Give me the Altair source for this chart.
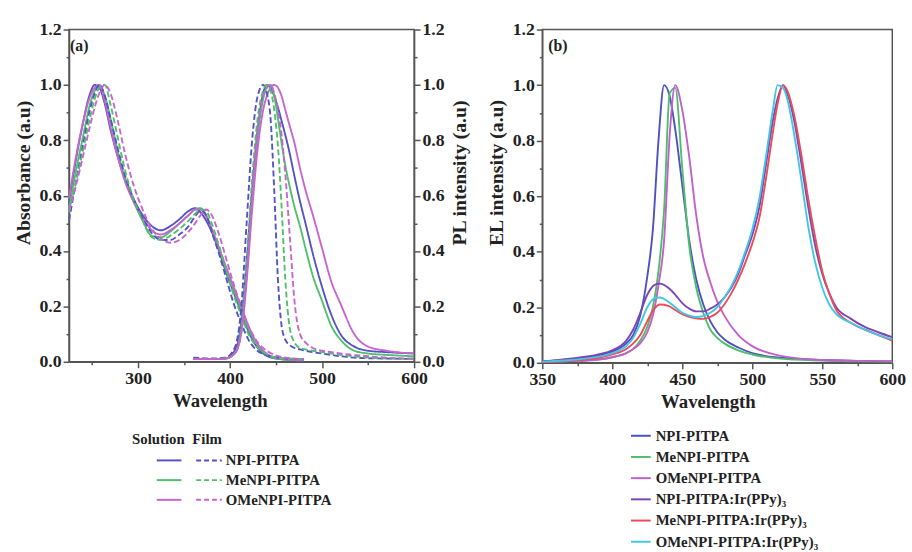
import altair as alt
import pandas as pd

FONT = "Liberation Serif"
INK = "#222222"
FRAME = "#555555"

# ---------------- Panel (a) ----------------
COMPOUNDS = ["NPI-PITPA", "MeNPI-PITPA", "OMeNPI-PITPA"]
COLORS_A = ["#5452c4", "#4fbf6a", "#c764cf"]
FORMS = ["Solution", "Film"]

ABS_WL = [225, 232, 240, 247, 253, 258, 264, 270, 278, 286, 295, 305, 315, 325, 335, 345,
          355, 362, 368, 374, 380, 388, 396, 404, 412, 420, 428, 436, 445, 460, 480]
ABS_NPI_SOL = [0.57, 0.72, 0.86, 0.96, 1.00, 0.99, 0.93, 0.84, 0.74, 0.66, 0.59, 0.53, 0.49, 0.475, 0.49, 0.515,
               0.545, 0.555, 0.54, 0.51, 0.47, 0.40, 0.32, 0.25, 0.18, 0.11, 0.06, 0.03, 0.015, 0.008, 0.005]
ABS_ME_SOL = [0.55, 0.68, 0.81, 0.92, 0.98, 1.00, 0.96, 0.88, 0.76, 0.66, 0.58, 0.51, 0.455, 0.45, 0.47, 0.50,
              0.53, 0.55, 0.555, 0.53, 0.48, 0.41, 0.33, 0.26, 0.19, 0.12, 0.07, 0.035, 0.018, 0.008, 0.005]
ABS_OME_SOL = [0.59, 0.73, 0.86, 0.95, 0.99, 1.00, 0.94, 0.85, 0.74, 0.65, 0.58, 0.52, 0.475, 0.46, 0.475, 0.50,
               0.53, 0.55, 0.55, 0.525, 0.48, 0.41, 0.34, 0.27, 0.20, 0.13, 0.075, 0.04, 0.02, 0.01, 0.006]
ABS_NPI_FILM = [0.51, 0.64, 0.78, 0.90, 0.97, 1.00, 0.96, 0.88, 0.77, 0.67, 0.59, 0.52, 0.465, 0.44, 0.44, 0.46,
                0.49, 0.525, 0.545, 0.53, 0.47, 0.39, 0.30, 0.21, 0.14, 0.08, 0.045, 0.028, 0.02, 0.012, 0.01]
ABS_ME_FILM = [0.54, 0.64, 0.76, 0.87, 0.95, 0.99, 1.00, 0.93, 0.81, 0.69, 0.59, 0.51, 0.45, 0.44, 0.455, 0.48,
               0.51, 0.535, 0.55, 0.545, 0.50, 0.42, 0.33, 0.24, 0.17, 0.10, 0.06, 0.035, 0.02, 0.012, 0.01]
ABS_OME_FILM = [0.55, 0.63, 0.74, 0.84, 0.92, 0.97, 1.00, 0.97, 0.87, 0.75, 0.64, 0.55, 0.48, 0.445, 0.43, 0.44,
                0.47, 0.50, 0.53, 0.55, 0.53, 0.46, 0.37, 0.28, 0.20, 0.13, 0.08, 0.05, 0.03, 0.015, 0.01]

PL_WL = [360, 380, 395, 405, 412, 418, 424, 430, 436, 440, 444, 448, 452, 456, 460, 465, 470,
         476, 482, 490, 500, 510, 520, 535, 550, 570, 600]
PL_NPI_SOL = [0.01, 0.01, 0.012, 0.04, 0.14, 0.36, 0.62, 0.84, 0.97, 1.00, 0.99, 0.96, 0.92, 0.87, 0.82, 0.75, 0.67,
              0.58, 0.50, 0.39, 0.27, 0.17, 0.10, 0.055, 0.04, 0.035, 0.03]
PL_ME_SOL = [0.01, 0.01, 0.012, 0.03, 0.11, 0.31, 0.58, 0.81, 0.95, 0.99, 1.00, 0.96, 0.88, 0.79, 0.71, 0.63, 0.56,
             0.49, 0.41, 0.31, 0.22, 0.13, 0.08, 0.04, 0.03, 0.025, 0.02]
PL_OME_SOL = [0.01, 0.01, 0.012, 0.03, 0.10, 0.29, 0.55, 0.77, 0.91, 0.96, 0.99, 1.00, 0.99, 0.96, 0.91, 0.85, 0.79,
              0.70, 0.62, 0.53, 0.41, 0.29, 0.21, 0.10, 0.055, 0.04, 0.03]
PL_NPI_FILM = [0.015, 0.012, 0.015, 0.05, 0.19, 0.50, 0.80, 0.96, 1.00, 0.97, 0.88, 0.62, 0.30, 0.13, 0.08, 0.06, 0.05,
               0.045, 0.04, 0.035, 0.03, 0.025, 0.02, 0.015, 0.013, 0.012, 0.01]
PL_ME_FILM = [0.01, 0.01, 0.012, 0.03, 0.12, 0.36, 0.66, 0.88, 0.98, 1.00, 0.98, 0.91, 0.78, 0.56, 0.30, 0.12, 0.07,
              0.05, 0.045, 0.04, 0.035, 0.03, 0.025, 0.02, 0.015, 0.012, 0.01]
PL_OME_FILM = [0.01, 0.01, 0.012, 0.03, 0.10, 0.31, 0.60, 0.84, 0.96, 0.99, 1.00, 0.97, 0.91, 0.82, 0.68, 0.45, 0.22,
               0.10, 0.07, 0.05, 0.04, 0.035, 0.03, 0.025, 0.02, 0.015, 0.012]

# ---------------- Panel (b) ----------------
EL_NAMES = ["NPI-PITPA", "MeNPI-PITPA", "OMeNPI-PITPA",
            "NPI-PITPA:Ir(PPy)\u2083", "MeNPI-PITPA:Ir(PPy)\u2083", "OMeNPI-PITPA:Ir(PPy)\u2083"]
EL_COLORS = ["#4e4fc2", "#4cbf6b", "#c35fcb", "#7a45b5", "#ec4b57", "#42c6e6"]

EL_WL = [350, 370, 390, 400, 410, 415, 420, 425, 429, 433, 437, 441, 445, 450, 455, 460, 465, 470,
         475, 480, 490, 500, 520, 550, 575, 600]
EL_NPI = [0.005, 0.012, 0.025, 0.04, 0.07, 0.10, 0.17, 0.31, 0.48, 0.80, 1.00, 0.96, 0.84, 0.64, 0.44, 0.30, 0.21, 0.15,
          0.11, 0.085, 0.055, 0.035, 0.018, 0.01, 0.007, 0.005]
EL_ME = [0.003, 0.006, 0.012, 0.02, 0.035, 0.05, 0.08, 0.13, 0.20, 0.33, 0.55, 0.97, 0.99, 0.70, 0.42, 0.27, 0.18, 0.12,
         0.09, 0.07, 0.045, 0.03, 0.015, 0.008, 0.005, 0.004]
EL_OME = [0.003, 0.006, 0.012, 0.02, 0.035, 0.05, 0.07, 0.11, 0.17, 0.28, 0.44, 0.82, 1.00, 0.91, 0.74, 0.53, 0.38, 0.29,
          0.22, 0.17, 0.10, 0.06, 0.025, 0.01, 0.007, 0.005]

IR_WL = [350, 370, 390, 400, 410, 415, 420, 425, 430, 434, 440, 445, 450, 455, 460, 465, 470, 475, 480, 485,
         490, 495, 500, 505, 510, 515, 518, 522, 525, 530, 535, 540, 545, 550, 555, 560, 570, 580, 590, 600]
IR_NPI = [0.005, 0.015, 0.03, 0.045, 0.08, 0.12, 0.18, 0.245, 0.28, 0.285, 0.27, 0.245, 0.215, 0.195, 0.185, 0.185,
          0.195, 0.21, 0.235, 0.27, 0.32, 0.39, 0.46, 0.56, 0.72, 0.88, 0.95, 1.00, 0.97, 0.87, 0.72, 0.56, 0.42,
          0.32, 0.25, 0.20, 0.16, 0.13, 0.11, 0.092]
IR_ME = [0.003, 0.008, 0.018, 0.03, 0.05, 0.07, 0.10, 0.15, 0.195, 0.21, 0.205, 0.19, 0.175, 0.165, 0.16, 0.158,
         0.165, 0.18, 0.21, 0.25, 0.30, 0.36, 0.43, 0.52, 0.67, 0.84, 0.93, 1.00, 0.98, 0.89, 0.75, 0.59, 0.45,
         0.33, 0.25, 0.19, 0.145, 0.12, 0.10, 0.08]
IR_OME = [0.004, 0.01, 0.022, 0.035, 0.06, 0.09, 0.14, 0.20, 0.232, 0.235, 0.22, 0.20, 0.18, 0.17, 0.165, 0.168,
          0.18, 0.20, 0.235, 0.275, 0.33, 0.40, 0.48, 0.59, 0.75, 0.92, 1.00, 0.99, 0.95, 0.82, 0.66, 0.49, 0.36,
          0.27, 0.21, 0.175, 0.145, 0.12, 0.10, 0.085]


def frame(wl, series, names, **extra):
    rows = []
    for name, vals in zip(names, series):
        for w, v in zip(wl, vals):
            rows.append({"wl": w, "val": v, "name": name, **extra})
    return pd.DataFrame(rows)


abs_df = pd.concat([
    frame(ABS_WL, [ABS_NPI_SOL, ABS_ME_SOL, ABS_OME_SOL], COMPOUNDS, form="Solution"),
    frame(ABS_WL, [ABS_NPI_FILM, ABS_ME_FILM, ABS_OME_FILM], COMPOUNDS, form="Film"),
])
pl_df = pd.concat([
    frame(PL_WL, [PL_NPI_SOL, PL_ME_SOL, PL_OME_SOL], COMPOUNDS, form="Solution"),
    frame(PL_WL, [PL_NPI_FILM, PL_ME_FILM, PL_OME_FILM], COMPOUNDS, form="Film"),
])
el_df = pd.concat([
    frame(EL_WL, [EL_NPI, EL_ME, EL_OME], EL_NAMES[:3]),
    frame(IR_WL, [IR_NPI, IR_ME, IR_OME], EL_NAMES[3:]),
])

Y_TICKS = [i / 10 for i in range(13)]
Y_LABEL = "round(datum.value*10) % 2 === 0 ? format(datum.value, '.1f') : ''"
Y_TICKSIZE = {"condition": {"test": "round(datum.value*10) % 2 === 0", "value": 6}, "value": 3}

W_A, H_A = 350, 337
W_B, H_B = 355, 338


def y_axis(title, orient):
    extra = {"titleBaseline": "top"} if orient == "right" else {}
    return alt.Axis(orient=orient, values=Y_TICKS, labelExpr=Y_LABEL, tickSize=Y_TICKSIZE,
                    title=title, titleAngle=270, titleY=145, titlePadding=6, labelFlush=False,
                    labelPadding=2, **extra)


x_a = alt.X("wl:Q", scale=alt.Scale(domain=[225, 600], nice=False, zero=False),
            axis=alt.Axis(values=list(range(250, 601, 50)),
                          labelExpr="datum.value % 100 === 0 ? datum.label : ''",
                          tickSize={"condition": {"test": "datum.value % 100 === 0", "value": 6}, "value": 3},
                          title="Wavelength", titleX=153, titleFontSize=19, titlePadding=4,
                          labelFlush=False, labelPadding=2))
color_a = alt.Color("name:N", scale=alt.Scale(domain=COMPOUNDS, range=COLORS_A), legend=None)
dash_a = alt.StrokeDash("form:N", scale=alt.Scale(domain=FORMS, range=[[1, 0], [6, 3]]), legend=None)

abs_lines = alt.Chart(abs_df).mark_line(strokeWidth=1.9, interpolate="monotone").encode(
    x=x_a,
    y=alt.Y("val:Q", scale=alt.Scale(domain=[0, 1.2], nice=False), axis=y_axis("Absorbance (a.u)", "left")),
    color=color_a, strokeDash=dash_a,
)
pl_lines = alt.Chart(pl_df).mark_line(strokeWidth=1.9, interpolate="monotone").encode(
    x=x_a,
    y=alt.Y("val:Q", scale=alt.Scale(domain=[0, 1.2], nice=False), axis=y_axis("PL intensity (a.u)", "right")),
    color=color_a, strokeDash=dash_a,
)


def text_mark(t, x, y, size=15, align="left"):
    return alt.Chart(pd.DataFrame({"t": [t]})).mark_text(
        font=FONT, fontWeight="bold", fontSize=size, align=align, baseline="middle", color=INK
    ).encode(x=alt.value(x), y=alt.value(y), text="t:N")


legend_a = [text_mark("Solution", 64, 415), text_mark("Film", 125, 415)]
for i, (name, col) in enumerate(zip(COMPOUNDS, COLORS_A)):
    yy = 437 + 20 * i
    one = pd.DataFrame({"t": [name]})
    legend_a.append(alt.Chart(one).mark_rule(color=col, strokeWidth=2).encode(
        x=alt.value(89), x2=alt.value(114), y=alt.value(yy)))
    legend_a.append(alt.Chart(one).mark_rule(color=col, strokeWidth=2, strokeDash=[5, 3]).encode(
        x=alt.value(129), x2=alt.value(155), y=alt.value(yy)))
    legend_a.append(text_mark(name, 159, yy))

panel_a = alt.layer(abs_lines, pl_lines, text_mark("(a)", 1, 17, size=16), *legend_a).resolve_scale(
    y="independent").properties(width=W_A, height=H_A)

x_b = alt.X("wl:Q", scale=alt.Scale(domain=[350, 600], nice=False, zero=False),
            axis=alt.Axis(values=list(range(350, 601, 25)),
                          labelExpr="datum.value % 50 === 0 ? datum.label : ''",
                          tickSize={"condition": {"test": "datum.value % 50 === 0", "value": 6}, "value": 3},
                          title="Wavelength", titleX=168, titleFontSize=19, titlePadding=4,
                          labelFlush=False, labelPadding=2))
el_lines = alt.Chart(el_df).mark_line(strokeWidth=1.9, interpolate="monotone").encode(
    x=x_b,
    y=alt.Y("val:Q", scale=alt.Scale(domain=[0, 1.2], nice=False), axis=y_axis("EL intensity (a.u)", "left")),
    color=alt.Color("name:N", scale=alt.Scale(domain=EL_NAMES, range=EL_COLORS),
                    legend=alt.Legend(orient="none", legendX=89, legendY=401, title=None,
                                      symbolType="stroke", symbolSize=400, symbolStrokeWidth=2,
                                      labelFont=FONT, labelFontWeight="bold", labelFontSize=15,
                                      labelColor=INK, labelOffset=4, rowPadding=2.5, labelLimit=400)),
)
panel_b = alt.layer(el_lines, text_mark("(b)", 6, 17, size=16)).properties(width=W_B, height=H_B)

chart = alt.hconcat(panel_a, panel_b, spacing=14).resolve_scale(
    color="independent", strokeDash="independent", x="independent", y="independent"
).properties(
    padding={"left": 12, "top": 16, "right": 5, "bottom": 2}, background="white"
).configure_view(stroke=FRAME, strokeWidth=1.5).configure_axis(
    domainColor=FRAME, domainWidth=1.5, tickColor=FRAME, tickWidth=1.5, grid=False,
    labelFont=FONT, labelFontWeight="bold", labelFontSize=18, labelColor=INK,
    titleFont=FONT, titleFontWeight="bold", titleFontSize=20, titleColor=INK,
)

chart.save("out.html", embed_options={"renderer": "svg", "actions": False})
